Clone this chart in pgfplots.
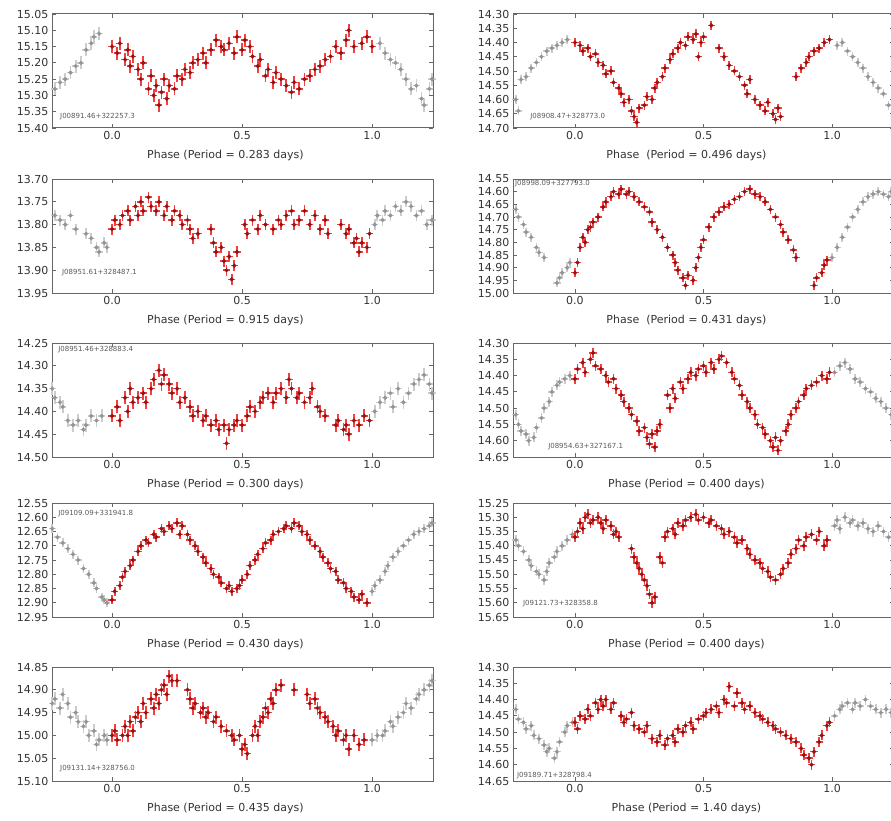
\documentclass[border=0pt]{standalone}
\usepackage{fontspec}
\setmainfont{DejaVu Sans}
\usepackage{pgfplots}
\usepackage{pgfplotstable}
\pgfplotsset{compat=1.18}
\definecolor{dkred}{rgb}{0.58,0.08,0.08}
\definecolor{errred}{rgb}{0.95,0.25,0.25}
\definecolor{gmark}{rgb}{0.58,0.58,0.58}
\definecolor{gerr}{rgb}{0.80,0.80,0.80}
\tikzset{namelab/.style={font=\fontsize{7}{8}\selectfont, text=black!65, anchor=west, inner sep=0pt}}
\pgfplotsset{
  panel/.style={scale only axis, width=381pt, height=114pt, anchor=north west,
    y dir=reverse, xtick={0,0.5,1}, xticklabels={0.0,0.5,1.0},
    tick align=inside, major tick length=4pt,
    axis line style={black!60, line width=1pt},
    tick style={black!60, line width=0.8pt},
    tick label style={font=\fontsize{11}{12}\selectfont, text=black!80},
    yticklabel style={/pgf/number format/fixed, /pgf/number format/fixed zerofill, /pgf/number format/precision=2, /pgf/number format/assume math mode=true},
    xlabel style={font=\fontsize{11}{13}\selectfont, text=black!80, at={(axis description cs:0.455,-0.24)}, anchor=center},
    scaled y ticks=false},
  leftp/.style={panel, xmin=-0.231, xmax=1.234},
  rightp/.style={panel, xmin=-0.241, xmax=1.241},
  rerr/.style={only marks, mark=|, mark size=#1, color=errred, mark options={line width=1.7pt}},
  rerrh/.style={only marks, mark=-, mark size=3.6pt, color=errred, mark options={line width=1.5pt}},
  rdot/.style={only marks, mark=*, mark size=1.9pt, color=dkred},
  gerrp/.style={only marks, mark=|, mark size=#1, color=gerr, mark options={line width=1.7pt}},
  gerrh/.style={only marks, mark=-, mark size=3.6pt, color=gerr, mark options={line width=1.5pt}},
  gdot/.style={only marks, mark=*, mark size=1.9pt, color=gmark}
}
% ---------------- data ----------------
\pgfplotstableread{
x y
-0.22 15.28
-0.20 15.26
-0.18 15.25
-0.16 15.23
-0.14 15.21
-0.12 15.20
-0.10 15.16
-0.08 15.14
-0.07 15.12
-0.05 15.11
1.03 15.14
1.05 15.17
1.07 15.19
1.09 15.20
1.11 15.22
1.13 15.25
1.15 15.28
1.17 15.27
1.19 15.31
1.20 15.33
1.22 15.28
1.23 15.25
}\gA
\pgfplotstableread{
x y
0.00 15.15
0.02 15.17
0.03 15.14
0.05 15.19
0.06 15.16
0.07 15.21
0.08 15.18
0.10 15.22
0.11 15.25
0.12 15.20
0.14 15.28
0.15 15.24
0.16 15.30
0.17 15.27
0.18 15.33
0.19 15.29
0.20 15.25
0.21 15.31
0.22 15.27
0.24 15.28
0.25 15.24
0.27 15.25
0.28 15.22
0.30 15.23
0.31 15.20
0.33 15.19
0.35 15.17
0.36 15.20
0.38 15.16
0.40 15.13
0.42 15.15
0.43 15.16
0.45 15.14
0.47 15.17
0.48 15.12
0.50 15.16
0.51 15.13
0.53 15.15
0.54 15.18
0.56 15.21
0.57 15.19
0.59 15.24
0.60 15.22
0.62 15.26
0.63 15.23
0.65 15.25
0.67 15.27
0.69 15.29
0.70 15.26
0.72 15.28
0.74 15.25
0.76 15.24
0.78 15.22
0.80 15.21
0.82 15.19
0.84 15.18
0.86 15.15
0.88 15.17
0.90 15.13
0.91 15.10
0.93 15.15
0.96 15.14
0.98 15.12
1.00 15.15
}\rA
\pgfplotstableread{
x y
-0.23 14.60
-0.22 14.64
-0.21 14.53
-0.19 14.52
-0.17 14.49
-0.15 14.47
-0.13 14.45
-0.11 14.43
-0.09 14.42
-0.07 14.41
-0.05 14.40
-0.03 14.39
1.02 14.41
1.04 14.40
1.06 14.43
1.08 14.45
1.10 14.47
1.12 14.49
1.14 14.52
1.16 14.54
1.18 14.56
1.20 14.58
1.22 14.62
}\gB
\pgfplotstableread{
x y
0.00 14.40
0.02 14.41
0.03 14.43
0.05 14.42
0.06 14.45
0.08 14.44
0.09 14.47
0.11 14.48
0.12 14.51
0.14 14.50
0.15 14.54
0.17 14.56
0.18 14.58
0.19 14.61
0.21 14.60
0.22 14.64
0.23 14.66
0.24 14.68
0.25 14.63
0.27 14.62
0.28 14.59
0.30 14.60
0.31 14.56
0.32 14.54
0.34 14.52
0.35 14.49
0.37 14.46
0.38 14.44
0.40 14.42
0.41 14.40
0.43 14.41
0.44 14.38
0.46 14.39
0.47 14.37
0.48 14.45
0.49 14.40
0.50 14.38
0.53 14.34
0.56 14.42
0.58 14.45
0.60 14.48
0.62 14.50
0.64 14.52
0.66 14.55
0.67 14.58
0.68 14.53
0.70 14.60
0.72 14.62
0.74 14.64
0.75 14.61
0.77 14.65
0.78 14.67
0.79 14.63
0.80 14.66
0.86 14.52
0.88 14.49
0.90 14.47
0.91 14.45
0.93 14.43
0.95 14.42
0.97 14.40
0.99 14.39
}\rB
\pgfplotstableread{
x y
-0.22 13.78
-0.20 13.79
-0.18 13.80
-0.16 13.78
-0.14 13.81
-0.10 13.82
-0.08 13.83
-0.06 13.85
-0.05 13.86
-0.03 13.84
-0.02 13.85
1.01 13.80
1.02 13.78
1.04 13.79
1.05 13.77
1.07 13.78
1.09 13.76
1.11 13.77
1.13 13.75
1.15 13.76
1.17 13.78
1.19 13.77
1.21 13.80
1.23 13.79
}\gC
\pgfplotstableread{
x y
0.00 13.81
0.01 13.79
0.03 13.80
0.04 13.78
0.06 13.77
0.07 13.79
0.09 13.76
0.10 13.78
0.11 13.75
0.12 13.77
0.14 13.74
0.15 13.76
0.17 13.77
0.18 13.75
0.20 13.78
0.21 13.76
0.23 13.79
0.24 13.77
0.26 13.78
0.27 13.80
0.29 13.79
0.30 13.81
0.31 13.83
0.33 13.82
0.38 13.81
0.39 13.84
0.40 13.86
0.42 13.85
0.43 13.88
0.44 13.90
0.45 13.87
0.46 13.92
0.47 13.89
0.48 13.86
0.51 13.80
0.52 13.82
0.54 13.79
0.56 13.81
0.57 13.78
0.59 13.80
0.62 13.81
0.64 13.79
0.65 13.80
0.67 13.78
0.69 13.77
0.70 13.80
0.72 13.79
0.74 13.77
0.76 13.80
0.78 13.78
0.80 13.81
0.82 13.79
0.83 13.82
0.88 13.80
0.90 13.82
0.91 13.81
0.93 13.84
0.94 13.83
0.95 13.86
0.96 13.84
0.98 13.85
0.99 13.82
}\rC
\pgfplotstableread{
x y
-0.23 14.67
-0.22 14.70
-0.20 14.73
-0.19 14.76
-0.17 14.78
-0.15 14.82
-0.14 14.84
-0.12 14.86
-0.07 14.96
-0.06 14.94
-0.05 14.92
-0.03 14.90
-0.02 14.88
1.00 14.86
1.02 14.82
1.04 14.78
1.06 14.74
1.08 14.70
1.10 14.67
1.12 14.64
1.14 14.62
1.16 14.61
1.18 14.60
1.20 14.61
1.22 14.62
1.23 14.60
}\gD
\pgfplotstableread{
x y
0.00 14.92
0.01 14.88
0.02 14.82
0.03 14.78
0.04 14.80
0.05 14.75
0.06 14.74
0.07 14.72
0.09 14.70
0.11 14.66
0.12 14.64
0.14 14.62
0.15 14.60
0.17 14.61
0.18 14.59
0.20 14.61
0.21 14.60
0.23 14.62
0.25 14.64
0.27 14.66
0.29 14.68
0.30 14.72
0.32 14.75
0.34 14.78
0.36 14.82
0.38 14.85
0.39 14.88
0.40 14.91
0.42 14.94
0.43 14.97
0.44 14.93
0.46 14.95
0.47 14.90
0.48 14.86
0.49 14.82
0.50 14.79
0.52 14.74
0.54 14.70
0.56 14.68
0.58 14.66
0.60 14.65
0.62 14.63
0.64 14.62
0.66 14.60
0.68 14.59
0.70 14.61
0.72 14.62
0.74 14.64
0.76 14.67
0.78 14.70
0.80 14.73
0.81 14.76
0.83 14.79
0.85 14.83
0.86 14.86
0.93 14.97
0.94 14.94
0.96 14.92
0.97 14.89
0.98 14.87
}\rD
\pgfplotstableread{
x y
-0.23 14.35
-0.22 14.37
-0.20 14.38
-0.19 14.39
-0.17 14.42
-0.15 14.43
-0.13 14.42
-0.11 14.44
-0.10 14.43
-0.08 14.41
-0.06 14.42
-0.04 14.41
1.01 14.40
1.03 14.38
1.05 14.37
1.07 14.36
1.08 14.39
1.10 14.35
1.12 14.38
1.14 14.36
1.16 14.34
1.18 14.33
1.20 14.32
1.22 14.34
1.23 14.36
}\gE
\pgfplotstableread{
x y
0.00 14.41
0.02 14.39
0.03 14.42
0.05 14.37
0.06 14.40
0.07 14.35
0.08 14.38
0.10 14.37
0.12 14.36
0.13 14.38
0.15 14.35
0.16 14.33
0.18 14.31
0.19 14.34
0.20 14.32
0.22 14.34
0.23 14.36
0.25 14.35
0.26 14.38
0.28 14.37
0.30 14.39
0.31 14.41
0.33 14.40
0.35 14.42
0.36 14.41
0.38 14.43
0.40 14.42
0.41 14.44
0.43 14.43
0.44 14.47
0.45 14.44
0.47 14.43
0.48 14.42
0.50 14.43
0.52 14.41
0.53 14.39
0.55 14.40
0.57 14.38
0.58 14.37
0.60 14.36
0.62 14.38
0.63 14.36
0.65 14.35
0.67 14.37
0.68 14.33
0.69 14.35
0.71 14.37
0.72 14.36
0.74 14.38
0.76 14.37
0.77 14.35
0.79 14.39
0.80 14.40
0.82 14.41
0.86 14.43
0.87 14.42
0.89 14.44
0.90 14.43
0.91 14.45
0.93 14.42
0.95 14.43
0.97 14.41
0.99 14.42
}\rE
\pgfplotstableread{
x y
-0.23 14.52
-0.22 14.55
-0.21 14.57
-0.19 14.58
-0.18 14.60
-0.16 14.59
-0.15 14.56
-0.13 14.53
-0.12 14.50
-0.10 14.48
-0.09 14.45
-0.07 14.43
-0.06 14.42
-0.04 14.41
-0.02 14.40
1.01 14.39
1.03 14.37
1.05 14.36
1.07 14.38
1.09 14.41
1.11 14.42
1.13 14.44
1.15 14.45
1.17 14.47
1.19 14.48
1.21 14.50
1.23 14.52
}\gF
\pgfplotstableread{
x y
0.00 14.41
0.01 14.38
0.03 14.36
0.04 14.39
0.06 14.35
0.07 14.33
0.08 14.37
0.10 14.38
0.12 14.40
0.13 14.42
0.15 14.41
0.16 14.44
0.18 14.46
0.19 14.48
0.21 14.50
0.22 14.52
0.24 14.54
0.25 14.57
0.27 14.56
0.28 14.59
0.29 14.61
0.30 14.58
0.31 14.62
0.32 14.57
0.33 14.55
0.36 14.46
0.37 14.50
0.38 14.44
0.39 14.47
0.41 14.42
0.42 14.44
0.44 14.41
0.45 14.39
0.47 14.40
0.48 14.38
0.50 14.37
0.51 14.39
0.53 14.36
0.54 14.38
0.56 14.35
0.57 14.34
0.59 14.36
0.61 14.39
0.62 14.41
0.64 14.43
0.65 14.46
0.67 14.48
0.68 14.50
0.70 14.52
0.71 14.55
0.73 14.56
0.74 14.58
0.76 14.60
0.77 14.62
0.78 14.59
0.79 14.63
0.80 14.60
0.82 14.57
0.83 14.55
0.84 14.52
0.86 14.50
0.87 14.48
0.89 14.46
0.90 14.44
0.92 14.43
0.94 14.42
0.96 14.40
0.98 14.41
0.99 14.39
}\rF
\pgfplotstableread{
x y
-0.23 12.64
-0.21 12.67
-0.19 12.69
-0.17 12.71
-0.15 12.73
-0.13 12.75
-0.11 12.78
-0.09 12.80
-0.07 12.83
-0.06 12.85
-0.04 12.88
-0.03 12.89
-0.02 12.90
1.00 12.86
1.01 12.84
1.03 12.82
1.05 12.79
1.06 12.77
1.08 12.74
1.10 12.72
1.12 12.70
1.14 12.68
1.16 12.66
1.18 12.65
1.20 12.64
1.22 12.63
1.23 12.62
}\gG
\pgfplotstableread{
x y
0.00 12.89
0.01 12.86
0.03 12.84
0.04 12.81
0.05 12.79
0.07 12.77
0.08 12.75
0.10 12.72
0.11 12.70
0.13 12.68
0.14 12.69
0.16 12.66
0.17 12.67
0.19 12.64
0.20 12.65
0.22 12.63
0.23 12.64
0.25 12.62
0.26 12.66
0.27 12.63
0.29 12.66
0.30 12.68
0.32 12.70
0.33 12.72
0.35 12.74
0.36 12.76
0.38 12.78
0.39 12.80
0.41 12.81
0.42 12.83
0.44 12.85
0.45 12.84
0.46 12.86
0.48 12.85
0.49 12.84
0.50 12.82
0.52 12.80
0.53 12.77
0.55 12.75
0.56 12.73
0.58 12.71
0.59 12.69
0.61 12.68
0.62 12.66
0.64 12.65
0.66 12.64
0.67 12.63
0.69 12.64
0.70 12.62
0.72 12.63
0.73 12.65
0.75 12.66
0.76 12.68
0.78 12.70
0.80 12.72
0.81 12.74
0.83 12.76
0.84 12.78
0.86 12.79
0.87 12.82
0.89 12.83
0.90 12.85
0.92 12.86
0.93 12.88
0.95 12.89
0.96 12.87
0.98 12.90
}\rG
\pgfplotstableread{
x y
-0.23 15.38
-0.22 15.40
-0.20 15.42
-0.18 15.45
-0.17 15.47
-0.15 15.49
-0.14 15.50
-0.12 15.52
-0.11 15.49
-0.10 15.46
-0.08 15.44
-0.07 15.42
-0.05 15.40
-0.03 15.38
-0.01 15.36
1.01 15.33
1.02 15.31
1.03 15.34
1.05 15.30
1.07 15.32
1.08 15.31
1.10 15.33
1.12 15.32
1.14 15.34
1.16 15.35
1.18 15.33
1.20 15.35
1.22 15.37
}\gH
\pgfplotstableread{
x y
0.00 15.37
0.01 15.35
0.02 15.32
0.03 15.34
0.04 15.30
0.05 15.29
0.06 15.32
0.07 15.31
0.09 15.30
0.10 15.32
0.11 15.34
0.12 15.31
0.14 15.33
0.15 15.36
0.16 15.35
0.17 15.37
0.22 15.41
0.23 15.44
0.24 15.46
0.25 15.48
0.26 15.50
0.27 15.52
0.28 15.54
0.29 15.57
0.30 15.60
0.31 15.58
0.33 15.44
0.34 15.46
0.35 15.37
0.36 15.35
0.38 15.34
0.39 15.36
0.40 15.32
0.42 15.33
0.43 15.31
0.45 15.30
0.47 15.29
0.48 15.31
0.50 15.30
0.52 15.32
0.53 15.31
0.55 15.33
0.57 15.34
0.58 15.36
0.60 15.35
0.62 15.37
0.63 15.39
0.65 15.38
0.67 15.41
0.68 15.43
0.70 15.45
0.72 15.46
0.73 15.48
0.75 15.49
0.76 15.51
0.78 15.52
0.80 15.50
0.81 15.48
0.83 15.46
0.84 15.43
0.86 15.41
0.87 15.38
0.89 15.40
0.90 15.37
0.92 15.36
0.94 15.38
0.95 15.35
0.97 15.40
0.98 15.38
}\rH
\pgfplotstableread{
x y
-0.23 14.93
-0.22 14.92
-0.20 14.94
-0.19 14.91
-0.17 14.93
-0.16 14.96
-0.14 14.95
-0.13 14.97
-0.11 14.98
-0.10 14.97
-0.09 15.00
-0.07 14.99
-0.06 15.02
-0.05 15.01
-0.03 15.00
-0.02 15.01
1.00 15.01
1.02 15.00
1.04 15.00
1.05 14.99
1.07 14.97
1.08 14.98
1.10 14.96
1.12 14.95
1.13 14.93
1.15 14.94
1.17 14.92
1.18 14.91
1.20 14.90
1.22 14.89
1.23 14.88
}\gI
\pgfplotstableread{
x y
0.00 15.00
0.01 14.99
0.02 15.01
0.04 15.00
0.05 14.98
0.06 15.00
0.07 14.97
0.08 14.99
0.09 14.96
0.10 14.95
0.11 14.97
0.12 14.93
0.13 14.95
0.15 14.92
0.16 14.94
0.17 14.91
0.18 14.93
0.19 14.90
0.20 14.89
0.21 14.91
0.22 14.87
0.23 14.88
0.25 14.88
0.29 14.90
0.30 14.92
0.31 14.94
0.32 14.93
0.34 14.95
0.35 14.94
0.36 14.96
0.37 14.95
0.39 14.97
0.40 14.96
0.42 14.98
0.44 14.99
0.46 15.00
0.47 15.01
0.49 15.00
0.50 15.03
0.51 15.02
0.52 15.04
0.54 15.00
0.55 14.98
0.56 15.00
0.57 14.97
0.58 14.96
0.59 14.94
0.60 14.95
0.61 14.92
0.62 14.93
0.63 14.90
0.65 14.89
0.70 14.90
0.75 14.91
0.76 14.93
0.78 14.92
0.79 14.94
0.80 14.95
0.82 14.96
0.83 14.97
0.85 14.98
0.86 15.00
0.87 14.99
0.89 15.01
0.90 15.00
0.91 15.03
0.93 15.00
0.95 15.02
0.97 15.01
}\rI
\pgfplotstableread{
x y
-0.23 14.43
-0.22 14.46
-0.20 14.47
-0.19 14.49
-0.17 14.48
-0.16 14.51
-0.14 14.52
-0.12 14.54
-0.11 14.56
-0.10 14.55
-0.08 14.58
-0.07 14.56
-0.06 14.53
-0.04 14.50
-0.03 14.48
-0.01 14.47
1.01 14.45
1.03 14.43
1.04 14.42
1.06 14.41
1.08 14.43
1.09 14.41
1.11 14.42
1.13 14.40
1.15 14.42
1.17 14.43
1.19 14.44
1.21 14.43
1.23 14.44
}\gJ
\pgfplotstableread{
x y
0.00 14.47
0.01 14.49
0.02 14.45
0.04 14.46
0.05 14.43
0.06 14.45
0.08 14.41
0.09 14.43
0.10 14.40
0.11 14.42
0.12 14.40
0.14 14.43
0.15 14.41
0.18 14.45
0.19 14.47
0.20 14.46
0.22 14.44
0.23 14.48
0.25 14.49
0.27 14.50
0.28 14.48
0.30 14.52
0.32 14.53
0.33 14.51
0.35 14.54
0.36 14.52
0.38 14.51
0.39 14.53
0.40 14.49
0.42 14.50
0.43 14.48
0.45 14.47
0.46 14.49
0.48 14.46
0.50 14.45
0.51 14.44
0.53 14.43
0.55 14.42
0.56 14.44
0.58 14.40
0.59 14.41
0.60 14.36
0.62 14.42
0.63 14.38
0.65 14.41
0.66 14.43
0.68 14.42
0.70 14.44
0.72 14.45
0.73 14.46
0.75 14.47
0.77 14.48
0.78 14.49
0.80 14.50
0.82 14.51
0.84 14.52
0.86 14.53
0.88 14.55
0.89 14.57
0.91 14.58
0.92 14.60
0.93 14.56
0.95 14.53
0.96 14.51
0.98 14.48
0.99 14.47
}\rJ
\begin{document}
\begin{tikzpicture}
\useasboundingbox (0,0) rectangle (891pt,-821pt);

\begin{axis}[leftp, at={(52pt,-14pt)}, ymin=15.05, ymax=15.40,
  ytick={15.05,15.10,15.15,15.20,15.25,15.30,15.35,15.40},
  xlabel={Phase (Period = 0.283 days)}]
\addplot[gerrp=6.5pt] table {\gA};
\addplot[gerrh] table {\gA};
\addplot[gdot] table {\gA};
\addplot[rerr=6.5pt] table {\rA};
\addplot[rerrh] table {\rA};
\addplot[rdot] table {\rA};
\node[namelab] at (axis description cs:0.021,0.10) {J00891.46+322257.3};
\end{axis}

\begin{axis}[rightp, at={(513pt,-14pt)}, ymin=14.30, ymax=14.70,
  ytick={14.30,14.35,14.40,14.45,14.50,14.55,14.60,14.65,14.70},
  xlabel={Phase \ (Period = 0.496 days)}]
\addplot[gerrp=4.5pt] table {\gB};
\addplot[gerrh] table {\gB};
\addplot[gdot] table {\gB};
\addplot[rerr=4.5pt] table {\rB};
\addplot[rerrh] table {\rB};
\addplot[rdot] table {\rB};
\node[namelab] at (axis description cs:0.045,0.10) {J08908.47+328773.0};
\end{axis}

\begin{axis}[leftp, at={(52pt,-179pt)}, ymin=13.70, ymax=13.95,
  ytick={13.70,13.75,13.80,13.85,13.90,13.95},
  xlabel={Phase (Period = 0.915 days)}]
\addplot[gerrp=5.5pt] table {\gC};
\addplot[gerrh] table {\gC};
\addplot[gdot] table {\gC};
\addplot[rerr=5.5pt] table {\rC};
\addplot[rerrh] table {\rC};
\addplot[rdot] table {\rC};
\node[namelab] at (axis description cs:0.026,0.18) {J08951.61+328487.1};
\end{axis}

\begin{axis}[rightp, at={(513pt,-179pt)}, ymin=14.55, ymax=15.00,
  ytick={14.55,14.60,14.65,14.70,14.75,14.80,14.85,14.90,14.95,15.00},
  xlabel={Phase \ (Period = 0.431 days)}]
\addplot[gerrp=4.5pt] table {\gD};
\addplot[gerrh] table {\gD};
\addplot[gdot] table {\gD};
\addplot[rerr=4.5pt] table {\rD};
\addplot[rerrh] table {\rD};
\addplot[rdot] table {\rD};
\node[namelab] at (axis description cs:0.005,0.96) {J08998.09+327793.0};
\end{axis}

\begin{axis}[leftp, at={(52pt,-343pt)}, ymin=14.25, ymax=14.50,
  ytick={14.25,14.30,14.35,14.40,14.45,14.50},
  xlabel={Phase (Period = 0.300 days)}]
\addplot[gerrp=6.5pt] table {\gE};
\addplot[gerrh] table {\gE};
\addplot[gdot] table {\gE};
\addplot[rerr=6.5pt] table {\rE};
\addplot[rerrh] table {\rE};
\addplot[rdot] table {\rE};
\node[namelab] at (axis description cs:0.016,0.94) {J08951.46+328883.4};
\end{axis}

\begin{axis}[rightp, at={(513pt,-343pt)}, ymin=14.30, ymax=14.65,
  ytick={14.30,14.35,14.40,14.45,14.50,14.55,14.60,14.65},
  xlabel={Phase (Period = 0.400 days)}]
\addplot[gerrp=5pt] table {\gF};
\addplot[gerrh] table {\gF};
\addplot[gdot] table {\gF};
\addplot[rerr=5pt] table {\rF};
\addplot[rerrh] table {\rF};
\addplot[rdot] table {\rF};
\node[namelab] at (axis description cs:0.092,0.09) {J08954.63+327167.1};
\end{axis}

\begin{axis}[leftp, at={(52pt,-503pt)}, ymin=12.55, ymax=12.95,
  ytick={12.55,12.60,12.65,12.70,12.75,12.80,12.85,12.90,12.95},
  xlabel={Phase (Period = 0.430 days)}]
\addplot[gerrp=4.5pt] table {\gG};
\addplot[gerrh] table {\gG};
\addplot[gdot] table {\gG};
\addplot[rerr=4.5pt] table {\rG};
\addplot[rerrh] table {\rG};
\addplot[rdot] table {\rG};
\node[namelab] at (axis description cs:0.016,0.91) {J09109.09+331941.8};
\end{axis}

\begin{axis}[rightp, at={(513pt,-503pt)}, ymin=15.25, ymax=15.65,
  ytick={15.25,15.30,15.35,15.40,15.45,15.50,15.55,15.60,15.65},
  xlabel={Phase (Period = 0.400 days)}]
\addplot[gerrp=5pt] table {\gH};
\addplot[gerrh] table {\gH};
\addplot[gdot] table {\gH};
\addplot[rerr=5pt] table {\rH};
\addplot[rerrh] table {\rH};
\addplot[rdot] table {\rH};
\node[namelab] at (axis description cs:0.026,0.12) {J09121.73+328358.8};
\end{axis}

\begin{axis}[leftp, at={(52pt,-667pt)}, ymin=14.85, ymax=15.10,
  ytick={14.85,14.90,14.95,15.00,15.05,15.10},
  xlabel={Phase (Period = 0.435 days)}]
\addplot[gerrp=6.5pt] table {\gI};
\addplot[gerrh] table {\gI};
\addplot[gdot] table {\gI};
\addplot[rerr=6.5pt] table {\rI};
\addplot[rerrh] table {\rI};
\addplot[rdot] table {\rI};
\node[namelab] at (axis description cs:0.021,0.11) {J09131.14+328756.0};
\end{axis}

\begin{axis}[rightp, at={(513pt,-667pt)}, ymin=14.30, ymax=14.65,
  ytick={14.30,14.35,14.40,14.45,14.50,14.55,14.60,14.65},
  xlabel={Phase (Period = 1.40 days)}]
\addplot[gerrp=5pt] table {\gJ};
\addplot[gerrh] table {\gJ};
\addplot[gdot] table {\gJ};
\addplot[rerr=5pt] table {\rJ};
\addplot[rerrh] table {\rJ};
\addplot[rdot] table {\rJ};
\node[namelab] at (axis description cs:0.01,0.05) {J09189.71+328798.4};
\end{axis}
\end{tikzpicture}
\end{document}
